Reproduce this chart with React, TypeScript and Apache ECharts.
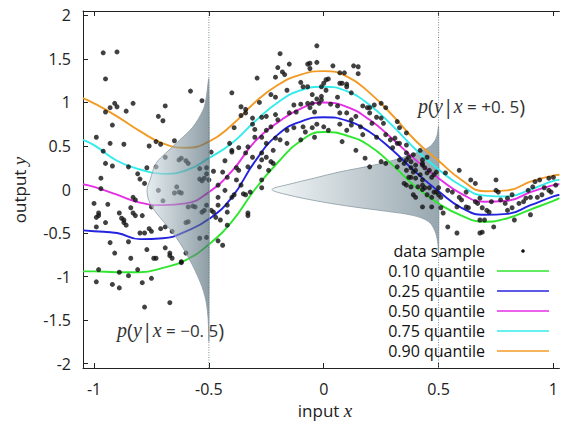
import React, { useEffect, useRef } from "react";
import * as echarts from "echarts";

const xTickValues = [-1, -0.5, 0, 0.5, 1];
const yTickValues = [-2, -1.5, -1, -0.5, 0, 0.5, 1, 1.5, 2];
const xRange = [-1.048, 1.026];
const yRange = [-2.05, 2.05];

const curveX = [-1.048, -1.0, -0.9, -0.8, -0.7, -0.6, -0.5, -0.4, -0.3, -0.2, -0.1, 0, 0.1, 0.2, 0.3, 0.4, 0.5, 0.6, 0.7, 0.8, 0.9, 1.0, 1.026];
const q10 = [-0.94, -0.94, -0.95, -0.95, -0.9, -0.81, -0.63, -0.37, 0.0, 0.31, 0.56, 0.66, 0.62, 0.5, 0.28, 0.03, -0.16, -0.3, -0.37, -0.33, -0.23, -0.13, -0.1];
const q25 = [-0.47, -0.48, -0.5, -0.57, -0.56, -0.48, -0.34, -0.09, 0.32, 0.63, 0.78, 0.83, 0.79, 0.66, 0.45, 0.2, -0.02, -0.21, -0.29, -0.28, -0.18, -0.08, -0.06];
const q50 = [0.06, 0.03, -0.06, -0.15, -0.18, -0.16, -0.03, 0.21, 0.55, 0.77, 0.93, 1.0, 0.95, 0.8, 0.58, 0.34, 0.13, -0.05, -0.14, -0.13, -0.03, 0.05, 0.06];
const q75 = [0.57, 0.51, 0.33, 0.23, 0.18, 0.22, 0.36, 0.53, 0.78, 1.0, 1.14, 1.18, 1.13, 0.97, 0.73, 0.46, 0.23, 0.04, -0.07, -0.08, 0.0, 0.1, 0.11];
const q90 = [1.05, 0.99, 0.84, 0.67, 0.53, 0.48, 0.55, 0.74, 1.0, 1.2, 1.32, 1.36, 1.3, 1.11, 0.85, 0.56, 0.33, 0.11, -0.02, -0.01, 0.09, 0.16, 0.17];

const samples: number[][] = [
  [-0.96,1.57],[-0.90,1.58],[-0.95,1.27],[-0.58,1.13],[-0.53,1.02],[-0.91,0.99],[-0.90,0.95],[-0.93,0.94],[-0.95,0.89],[-0.83,0.99],[-0.86,0.90],[-0.69,0.96],[-0.72,0.84],[-0.70,0.79],[-0.92,0.74],[-0.99,0.60],[-0.93,0.53],[-0.87,0.52],[-0.76,0.50],[-0.73,0.55],[-0.71,0.52],[-0.65,0.56],[-0.96,0.44],[-0.69,0.37],[-0.95,0.30],[-0.92,0.27],[-0.85,0.26],[-0.77,0.25],[-0.73,0.26],[-0.81,0.18],[-0.80,0.12],[-0.78,0.07],[-0.97,0.13],[-0.97,0.01],
  [-0.63,0.34],[-0.62,0.36],[-0.60,0.33],[-0.59,0.30],[-0.54,0.24],[-0.51,0.25],[-0.51,0.18],[-0.54,0.12],[-0.53,0.10],[-0.52,0.13],[-0.72,-0.01],[-0.64,0.03],[-0.63,-0.03],[-0.62,-0.04],
  [-0.83,-0.09],[-0.82,-0.12],[-1.00,-0.16],[-0.94,-0.17],[-0.75,-0.20],[-0.70,-0.13],[-0.98,-0.27],[-0.98,-0.30],[-0.99,-0.32],[-0.89,-0.27],[-0.88,-0.33],[-0.87,-0.35],[-0.87,-0.38],[-0.86,-0.41],[-0.84,-0.21],[-0.83,-0.27],[-0.82,-0.30],[-0.79,-0.30],[-0.99,-0.43],[-0.95,-0.38],[-0.80,-0.50],[-0.78,-0.50],[-0.76,-0.45],[-0.75,-0.48],[-0.71,-0.45],[-0.69,-0.43],[-0.66,-0.48],[-0.85,-0.60],[-0.93,-0.61],[-0.91,-0.73],[-0.84,-0.79],[-0.77,-0.69],[-0.74,-0.79],[-0.73,-0.79],[-0.69,-0.67],[-0.67,-0.73],[-0.67,-0.76],[-0.66,-0.79],[-0.60,-0.73],[-0.62,-0.83],[-0.62,-0.84],[-0.98,-0.92],[-0.89,-0.95],[-0.85,-0.99],[-0.81,-0.92],[-0.99,-1.06],[-0.92,-1.09],[-0.89,-1.13],[-0.79,-1.07],[-0.75,-1.02],[-0.78,-1.35],[-0.67,-1.30],
  [-0.65,-0.04],[-0.59,-0.20],[-0.57,-0.19],[-0.56,-0.20],[-0.60,-0.38],[-0.59,-0.37],[-0.53,-0.26],[-0.52,-0.24],[-0.54,-0.56],[-0.51,-0.18],[-0.51,-0.55],
  [-0.40,1.11],[-0.36,0.95],[-0.34,0.92],[-0.39,0.71],[-0.36,0.85],[-0.34,0.88],[-0.31,0.82],[-0.31,0.75],[-0.49,0.43],[-0.41,0.53],[-0.40,0.45],[-0.40,0.43],[-0.37,0.48],[-0.33,0.49],[-0.30,0.60],[-0.48,0.21],[-0.44,0.20],[-0.42,0.14],[-0.38,0.25],[-0.37,0.22],[-0.38,0.11],[-0.36,0.05],[-0.46,0.05],[-0.43,-0.01],[-0.40,-0.09],[-0.46,-0.09],[-0.34,-0.06],[-0.32,-0.03],[-0.33,0.26],[-0.31,0.37],[-0.43,0.33],[-0.50,0.11],[-0.49,-0.24],[-0.46,-0.18],[-0.48,-0.26],[-0.42,-0.18],[-0.42,-0.26],[-0.47,-0.32],[-0.45,-0.35],[-0.42,-0.41],[-0.39,-0.06],[-0.35,-0.05],[-0.33,-0.27],[-0.33,-0.30],[-0.46,-0.59],[-0.44,-0.64],[-0.34,0.42],
  [-0.03,1.65],[-0.19,1.56],[-0.15,1.44],[-0.07,1.44],[-0.06,1.45],[-0.03,1.46],[0.04,1.42],[0.13,1.42],[0.15,1.41],[-0.20,1.40],[-0.18,1.35],[-0.17,1.32],[-0.06,1.39],[0.07,1.34],[0.09,1.34],[0.15,1.33],[-0.29,1.28],[-0.21,1.29],[0.01,1.26],[0.02,1.27],[0.00,1.22],[0.07,1.22],[0.08,1.22],[0.10,1.21],[0.10,1.18],[-0.10,1.23],[-0.09,1.18],[-0.07,1.18],[-0.01,1.18],[0.01,1.14],[-0.16,1.14],[-0.23,1.09],[-0.21,1.06],[-0.05,1.09],[-0.01,1.07],[-0.03,1.04],[-0.01,1.03],[0.06,1.06],[0.12,1.11],[0.17,0.96],[0.19,0.94],[0.20,0.94],[0.22,0.97],[0.25,0.99],[-0.13,0.97],[-0.10,0.98],[-0.07,0.99],[-0.05,0.99],[-0.02,0.99],[0.03,0.98],[0.06,0.96],[-0.06,0.94],[-0.28,1.00],[-0.27,0.83],[-0.25,0.84],[-0.21,0.86],[-0.20,0.80],[-0.15,0.88],[-0.12,0.89],[-0.04,0.89],[0.07,0.88],[0.10,0.88],[0.14,0.84],[0.20,0.88],[0.23,0.83],[0.25,0.82],[0.26,0.76],[0.32,0.78],[-0.30,0.69],[-0.25,0.68],[-0.23,0.72],[-0.16,0.68],[-0.13,0.71],[-0.09,0.72],[-0.08,0.66],[-0.03,0.75],[0.00,0.72],[0.02,0.68],[0.07,0.75],[0.12,0.80],[0.12,0.74],[0.16,0.72],[0.21,0.76],[-0.27,0.60],[-0.21,0.59],[-0.19,0.57],[-0.16,0.53],[-0.10,0.57],[-0.05,0.71],[0.10,0.68],[0.17,0.63],[0.23,0.60],[0.27,0.63],[0.29,0.57],[0.30,0.48],[0.32,0.53],[-0.25,0.53],[-0.22,0.45],[-0.25,0.37],[-0.23,0.32],[-0.22,0.30],[-0.04,0.60],[0.14,0.45],[0.18,0.36],[0.25,0.32],[0.27,0.30],[0.32,0.26],[-0.27,0.34],[-0.27,0.42],[-0.28,0.26],[-0.24,0.22],[-0.27,0.11],[-0.27,0.02],[0.08,0.55],[0.20,0.26],[0.33,0.34],[0.35,0.30],[0.36,0.34],[0.36,0.22],[0.38,0.25],[0.39,0.20],[0.38,0.14],[0.40,0.13],[0.42,0.17],[0.36,0.05],[0.38,0.03],[0.41,0.03],[0.43,0.05],[0.44,0.02],[0.39,-0.06],[0.40,-0.09],[0.45,-0.06],[0.47,-0.09],[0.43,-0.20],[0.47,-0.20],[0.48,-0.03],[0.50,0.02],[0.49,0.20],[0.43,0.30],[0.45,0.37],[0.42,0.45],[0.33,0.53],[0.31,0.59],[0.36,0.65],[0.27,0.94],[0.33,0.71],
  [0.36,0.51],[0.36,0.42],[0.37,0.37],[0.39,0.40],[0.43,0.34],[0.38,0.32],[0.40,0.28],[0.40,0.22],[0.43,0.28],[0.44,0.25],[0.45,0.19],[0.46,0.22],[0.47,0.14],[0.48,0.17],[0.43,0.11],[0.35,0.07],[0.37,0.14],[0.43,0.00],[0.46,0.02],[0.49,-0.03],[0.50,-0.06],[0.51,-0.09],[0.53,0.19],[0.59,0.22],[0.64,0.11],[0.66,0.07],[0.54,-0.01],[0.56,-0.03],[0.59,-0.09],[0.60,-0.12],[0.62,-0.03],[0.58,-0.20],[0.62,-0.20],[0.63,-0.21],[0.66,-0.14],[0.67,-0.16],[0.68,-0.10],[0.69,-0.21],[0.71,-0.24],[0.72,-0.26],[0.75,0.11],[0.75,-0.01],[0.76,-0.03],[0.73,-0.14],[0.77,-0.12],[0.79,-0.16],[0.80,-0.10],[0.82,-0.06],[0.80,-0.24],[0.82,-0.21],[0.83,-0.35],[0.85,-0.16],[0.87,-0.14],[0.88,-0.10],[0.90,-0.09],[0.89,-0.01],[0.91,0.03],[0.92,0.09],[0.94,0.11],[0.96,0.02],[0.98,-0.01],[0.99,-0.03],[1.01,0.05],[0.98,0.13],[1.00,0.14],[0.93,-0.09],[0.95,-0.06],[0.90,-0.29],[0.54,-0.43],[0.68,-0.35],[0.70,-0.35],[0.68,-0.50],[0.69,-0.49],[0.74,-0.43],[0.51,-0.21],[0.52,-0.27],[0.58,-0.50]
];

// p(y|x=-0.5): y values and density widths (in x units, drawn leftwards from x=-0.5)
const leftDensityX = -0.5;
const leftDensityY = [1.26, 1.03, 0.91, 0.72, 0.57, 0.42, 0.3, 0.11, -0.01, -0.16, -0.32, -0.5, -0.73, -1.0, -1.23, -1.46, -1.73];
const leftDensityW = [0, 0.013, 0.026, 0.069, 0.126, 0.187, 0.23, 0.256, 0.269, 0.256, 0.213, 0.156, 0.1, 0.048, 0.017, 0.004, 0];
// p(y|x=+0.5)
const rightDensityX = 0.5;
const rightDensityY = [0.72, 0.6, 0.5, 0.43, 0.36, 0.28, 0.2, 0.13, 0.06, 0.0, -0.06, -0.14, -0.2, -0.25, -0.3, -0.37, -0.47, -0.6, -0.72];
const rightDensityW = [0, 0.009, 0.035, 0.087, 0.165, 0.282, 0.434, 0.542, 0.651, 0.725, 0.659, 0.512, 0.369, 0.226, 0.108, 0.043, 0.017, 0.004, 0];

const quantileNames = ["0.10 quantile", "0.25 quantile", "0.50 quantile", "0.75 quantile", "0.90 quantile"];
const quantileColors = ["#2ee62e", "#2424e0", "#e62ee6", "#33ebeb", "#f29b24"];
const quantileValues = [q10, q25, q50, q75, q90];

const SANS = '"Open Sans", "Noto Sans", sans-serif';
const SERIF = '"Liberation Serif", "DejaVu Serif", serif';

export default function App() {
  const ref = useRef<HTMLDivElement>(null);
  useEffect(() => {
    if (!ref.current) return;
    const chart = echarts.init(ref.current, null, { renderer: "svg" });

    const densitySeries = (x0: number, ys: number[], ws: number[], z: number, fill: any) => ({
      type: "custom",
      data: [[x0, 0]],
      z,
      silent: true,
      renderItem: (params: any, api: any) => {
        const pts = ys.map((y, i) => api.coord([x0 - ws[i], y]));
        return {
          type: "polygon",
          shape: { points: pts, smooth: 0.35 },
          style: { fill, stroke: "#8a9ba4", lineWidth: 0.8 },
        };
      },
    });

    const leftFill = new echarts.graphic.LinearGradient(0, 0, 1, 0, [
      { offset: 0, color: "rgba(213,225,230,0.6)" },
      { offset: 1, color: "rgba(67,92,105,0.6)" },
    ]);
    const rightFill = new echarts.graphic.LinearGradient(0, 0, 1, 0, [
      { offset: 0, color: "#f2f6f7" },
      { offset: 1, color: "#97a7af" },
    ]);

    const axisCommon = {
      type: "value",
      splitLine: { show: false },
      axisLine: { show: true, onZero: false, lineStyle: { color: "#222", width: 1 } },
      axisTick: { show: true, inside: true, length: 5, lineStyle: { color: "#222" } },
    };

    const quantileSeries = quantileValues.map((vals, k) => ({
      type: "line",
      name: quantileNames[k],
      data: curveX.map((x, i) => [x, vals[i]]),
      smooth: true,
      symbol: "none",
      z: 3,
      lineStyle: { color: quantileColors[k], width: 1.9 },
    }));

    const vline = (x: number) => ({
      type: "line",
      data: [[x, yRange[0]], [x, yRange[1]]],
      symbol: "none",
      z: 1,
      silent: true,
      lineStyle: { color: "#7a8a94", width: 1, type: [1, 1.5] },
    });

    const legendRows = ["data sample", ...quantileNames];
    const legendGraphics: any[] = [];
    legendRows.forEach((label, i) => {
      const y = 251 + i * 20;
      legendGraphics.push({
        type: "text",
        z: 100,
        style: {
          text: label,
          x: 485,
          y,
          textAlign: "right",
          textVerticalAlign: "middle",
          fontSize: 16,
          lineHeight: 18,
          fontFamily: SANS,
          fill: "#111",
        },
      });
      if (i === 0) {
        legendGraphics.push({ type: "circle", z: 100, shape: { cx: 523, cy: y, r: 1.8 }, style: { fill: "#111" } });
      } else {
        legendGraphics.push({
          type: "line",
          z: 100,
          shape: { x1: 497, y1: y, x2: 549, y2: y },
          style: { stroke: quantileColors[i - 1], lineWidth: 1.6 },
        });
      }
    });

    const richAnn = {
      i: { fontFamily: SERIF, fontStyle: "italic", fontSize: 20, fill: "#333" },
      n: { fontFamily: SANS, fontSize: 17, fill: "#333" },
      b: { fontFamily: SANS, fontSize: 20, fill: "#333" },
    };

    chart.setOption({
      animation: false,
      backgroundColor: "#fff",
      grid: { left: 83, top: 11, width: 478, height: 357, containLabel: false },
      xAxis: [
        {
          ...axisCommon,
          position: "bottom",
          min: xRange[0],
          max: xRange[1],
          axisTick: { ...axisCommon.axisTick, customValues: xTickValues },
          axisLabel: { customValues: xTickValues, margin: 13, fontSize: 16, fontFamily: SANS, color: "#222" },
        },
        {
          ...axisCommon,
          position: "top",
          min: xRange[0],
          max: xRange[1],
          axisTick: { ...axisCommon.axisTick, customValues: xTickValues },
          axisLabel: { show: false },
        },
      ],
      yAxis: {
        ...axisCommon,
        min: yRange[0],
        max: yRange[1],
        axisTick: { ...axisCommon.axisTick, customValues: yTickValues },
        axisLabel: { customValues: yTickValues, margin: 12, fontSize: 16, fontFamily: SANS, color: "#222" },
      },
      series: [
        densitySeries(rightDensityX, rightDensityY, rightDensityW, 0, rightFill),
        vline(leftDensityX),
        vline(rightDensityX),
        ...quantileSeries,
        {
          type: "scatter",
          name: "data sample",
          data: samples,
          symbolSize: 5,
          z: 4,
          itemStyle: { color: "#111" },
        },
        densitySeries(leftDensityX, leftDensityY, leftDensityW, 5, leftFill),
      ],
      graphic: [
        {
          type: "text",
          z: 100,
          style: {
            text: "{a|input }{b|x}",
            x: 325,
            y: 410,
            textAlign: "center",
            textVerticalAlign: "middle",
            rich: {
              a: { fontFamily: SANS, fontSize: 17, fill: "#222" },
              b: { fontFamily: SERIF, fontStyle: "italic", fontSize: 19, fill: "#222" },
            },
          },
        },
        {
          type: "text",
          z: 100,
          x: 19,
          y: 190,
          rotation: Math.PI / 2,
          style: {
            text: "{a|output }{b|y}",
            x: 0,
            y: 0,
            textAlign: "center",
            textVerticalAlign: "middle",
            rich: {
              a: { fontFamily: SANS, fontSize: 17, fill: "#222" },
              b: { fontFamily: SERIF, fontStyle: "italic", fontSize: 19, fill: "#222" },
            },
          },
        },
        {
          type: "text",
          z: 100,
          style: {
            text: "{i|p}{b|(}{i|y}{b||}{i|x}{n| = −0. 5}{b|)}",
            x: 117,
            y: 330,
            textAlign: "left",
            textVerticalAlign: "middle",
            rich: richAnn,
          },
        },
        {
          type: "text",
          z: 100,
          style: {
            text: "{i|p}{b|(}{i|y}{b||}{i|x}{n| = +0. 5}{b|)}",
            x: 418,
            y: 106,
            textAlign: "left",
            textVerticalAlign: "middle",
            rich: richAnn,
          },
        },
        ...legendGraphics,
      ],
    });
    return () => chart.dispose();
  }, []);
  return <div ref={ref} style={{ position: "fixed", left: 0, top: 0, width: 561, height: 425 }} />;
}
